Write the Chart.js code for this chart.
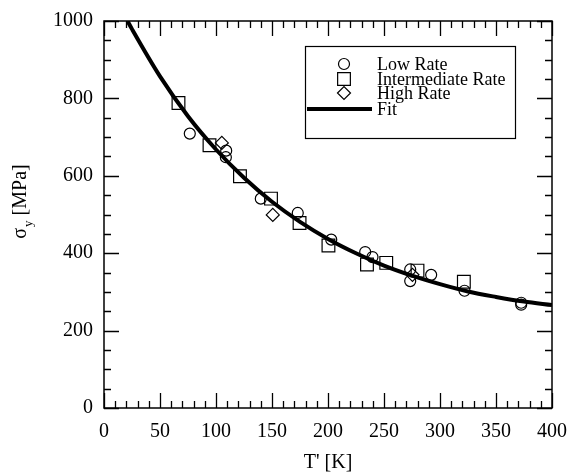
<!DOCTYPE html>
<html>
<head>
<meta charset="utf-8">
<script src="https://cdn.jsdelivr.net/npm/chart.js@4.4.1/dist/chart.umd.min.js"></script>
<style>
  html, body { margin: 0; padding: 0; background: #fff; }
  #wrap { width: 569px; height: 476px; }
</style>
</head>
<body>
<div id="wrap"><canvas id="chart" width="569" height="476"></canvas></div>
<script>
// values
const lowT  = [76.6, 109.1, 108.8, 140, 173, 202.9, 233.2, 239.7, 273.4, 273.4, 292.1, 321.9, 372.5, 372.5];
const lowS  = [709, 665, 648, 541, 504, 435, 403, 390, 358, 328, 344, 303, 272, 267];
const midT  = [66.5, 94.2, 121.4, 149.1, 174.6, 200.4, 234.8, 252, 279.9, 321.3];
const midS  = [788, 679, 599, 541, 478, 420, 371, 375, 355, 326];
const highT = [105.2, 150.7, 275.4];
const highS = [685, 499, 344];
const fitT  = [21, 25, 50, 75, 100, 125, 150, 175, 200, 225, 250, 275, 300, 325, 350, 375, 400];
const fitS  = [1000, 979, 857, 754, 668, 595, 533, 481, 437, 400, 368, 342, 320, 301, 287, 275, 266];

const xTicks = [0, 50, 100, 150, 200, 250, 300, 350, 400];
const yTicks = [0, 200, 400, 600, 800, 1000];

const FONT = '"Liberation Serif", "Times New Roman", serif';
const pts = (xs, ys) => xs.map((x, i) => ({x: x, y: ys[i]}));

// inward ticks on all four sides, frame, axis titles and the boxed legend
const decor = {
  id: 'decor',
  afterDraw(chart) {
    const {ctx, chartArea: a, scales: {x, y}} = chart;
    ctx.save();
    ctx.strokeStyle = '#000';
    ctx.lineWidth = 1.3;
    ctx.beginPath();
    for (let v = 0; v <= 400; v += 10) {
      const px = Math.round(x.getPixelForValue(v)) + 0.5;
      const len = v % 50 === 0 ? 15 : 7;
      ctx.moveTo(px, a.bottom); ctx.lineTo(px, a.bottom - len);
      ctx.moveTo(px, a.top); ctx.lineTo(px, a.top + len);
    }
    for (let v = 0; v <= 1000; v += 50) {
      const py = Math.round(y.getPixelForValue(v)) + 0.5;
      const len = v % 200 === 0 ? 15 : 7;
      ctx.moveTo(a.left, py); ctx.lineTo(a.left + len, py);
      ctx.moveTo(a.right, py); ctx.lineTo(a.right - len, py);
    }
    ctx.stroke();
    ctx.lineWidth = 1.5;
    ctx.strokeRect(a.left, a.top, a.right - a.left, a.bottom - a.top);

    // axis titles
    ctx.fillStyle = '#000';
    ctx.font = '20px ' + FONT;
    ctx.textAlign = 'center';
    ctx.textBaseline = 'middle';
    ctx.fillText("T' [K]", (a.left + a.right) / 2, 463);

    ctx.save();
    ctx.translate(26, 202);
    ctx.rotate(-Math.PI / 2);
    ctx.textAlign = 'left';
    ctx.textBaseline = 'alphabetic';
    ctx.font = '20px ' + FONT;
    const w1 = ctx.measureText('σ').width;
    const w3 = ctx.measureText(' [MPa]').width;
    ctx.font = '13px ' + FONT;
    const w2 = ctx.measureText('y').width;
    let sx = -(w1 + w2 + w3) / 2;
    ctx.font = '20px ' + FONT;
    ctx.fillText('σ', sx, 0);
    ctx.font = '13px ' + FONT;
    ctx.fillText('y', sx + w1 + 1, 6);
    ctx.font = '20px ' + FONT;
    ctx.fillText(' [MPa]', sx + w1 + w2 + 1, 0);
    ctx.restore();

    // legend
    ctx.lineWidth = 1.2;
    ctx.strokeRect(305.5, 46.5, 210, 92);
    ctx.font = '18px ' + FONT;
    ctx.textAlign = 'left';
    ctx.textBaseline = 'middle';
    const rows = [64, 79, 93, 109];
    chart.data.datasets.forEach((ds, i) => {
      const ry = rows[i];
      ctx.lineWidth = ds.borderWidth;
      if (ds.showLine) {
        ctx.beginPath(); ctx.moveTo(307, ry); ctx.lineTo(372, ry); ctx.stroke();
      } else {
        ctx.fillStyle = 'rgba(0,0,0,0)';
        Chart.helpers.drawPoint(ctx, {pointStyle: ds.pointStyle, radius: ds.pointRadius, borderWidth: ds.borderWidth, rotation: 0}, 344, ry);
        ctx.fillStyle = '#000';
      }
      ctx.fillText(ds.label, 377, ry + 1);
    });
    ctx.restore();
  }
};

const markerBase = {borderColor: '#000', backgroundColor: 'rgba(0,0,0,0)', borderWidth: 1.2, order: 1};

new Chart(document.getElementById('chart'), {
  type: 'scatter',
  data: {
    datasets: [
      Object.assign({label: 'Low Rate', data: pts(lowT, lowS), pointStyle: 'circle', pointRadius: 5.5}, markerBase),
      Object.assign({label: 'Intermediate Rate', data: pts(midT, midS), pointStyle: 'rect', pointRadius: 9}, markerBase),
      Object.assign({label: 'High Rate', data: pts(highT, highS), pointStyle: 'rectRot', pointRadius: 6.5}, markerBase),
      {label: 'Fit', data: pts(fitT, fitS), showLine: true, pointRadius: 0, borderColor: '#000',
       borderWidth: 4, cubicInterpolationMode: 'monotone', order: 0}
    ]
  },
  options: {
    animation: false,
    responsive: false,
    events: [],
    layout: {padding: {left: 0, top: 21, right: 17, bottom: 0}},
    plugins: {legend: {display: false}, tooltip: {enabled: false}},
    scales: {
      x: {
        type: 'linear', min: 0, max: 400,
        afterBuildTicks: s => { s.ticks = xTicks.map(v => ({value: v})); },
        afterFit: s => { s.height = 68; s.paddingLeft = 0; s.paddingRight = 0; },
        grid: {display: false, drawTicks: false},
        border: {display: false},
        ticks: {color: '#000', padding: 12, font: {family: FONT, size: 20}, maxRotation: 0,
                callback: v => String(v)}
      },
      y: {
        type: 'linear', min: 0, max: 1000,
        afterBuildTicks: s => { s.ticks = yTicks.map(v => ({value: v})); },
        afterFit: s => { s.width = 104; s.paddingTop = 0; s.paddingBottom = 0; },
        grid: {display: false, drawTicks: false},
        border: {display: false},
        ticks: {color: '#000', padding: 11, font: {family: FONT, size: 20},
                callback: v => String(v)}
      }
    }
  },
  plugins: [decor]
});
</script>
</body>
</html>
